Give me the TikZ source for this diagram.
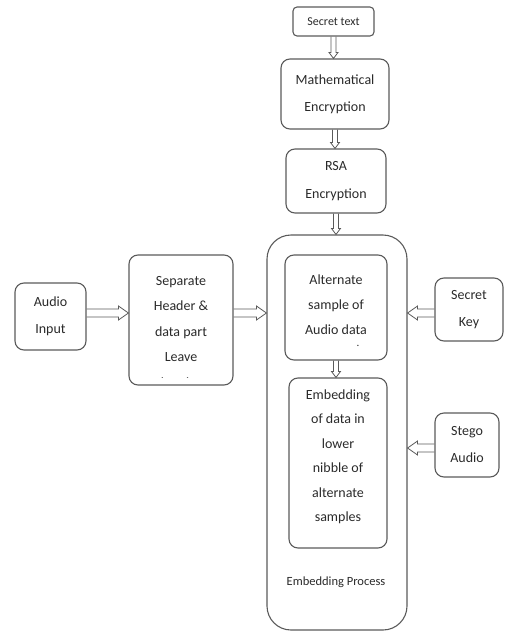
\documentclass[tikz,border=0pt]{standalone}
\usepackage{fontspec}
\setmainfont{Carlito}
\usetikzlibrary{calc}
\definecolor{edge}{HTML}{5A5A5A}
\definecolor{ink}{HTML}{2A2A2A}
\tikzset{
  box/.style={draw=edge, line width=1.1pt, rounded corners=9pt, inner sep=0pt, align=center, text=ink},
  bigbox/.style={draw=edge, line width=1.1pt, rounded corners=24pt, inner sep=0pt},
  txt/.style={align=center, text=ink, inner sep=0pt, font=\fontsize{14}{25}\selectfont},
  arrowbody/.style={draw=edge, line width=0.8pt, line join=miter},
}
% horizontal hollow arrow from #1 to #2 (same height)
\newcommand{\flowH}[2]{\draw[arrowbody] let \p1=(#1), \p2=(#2), \n1={sign(\x2-\x1)} in
  (\x1,\y1+4pt) -- (\x2-\n1*10pt,\y1+4pt) -- (\x2-\n1*10pt,\y1+7pt) -- (\x2,\y1)
  -- (\x2-\n1*10pt,\y1-7pt) -- (\x2-\n1*10pt,\y1-4pt) -- (\x1,\y1-4pt);}
% vertical (downward) hollow arrow from #1 to #2
\newcommand{\flowV}[2]{\draw[arrowbody] let \p1=(#1), \p2=(#2) in
  (\x1-2.5pt,\y1) -- (\x1-2.5pt,\y2+6pt) -- (\x1-4.5pt,\y2+6pt) -- (\x1,\y2)
  -- (\x1+4.5pt,\y2+6pt) -- (\x1+2.5pt,\y2+6pt) -- (\x1+2.5pt,\y1);}
\begin{document}
\begin{tikzpicture}[x=1pt,y=-1pt]
\useasboundingbox (0,0) rectangle (505,632);
% outer
\node[bigbox, minimum width=140pt, minimum height=395pt] (outer) at (337,432.5) {};
\node[txt, font=\fontsize{12.5}{14}\selectfont] (eplabel) at (336,582) {Embedding Process};
% top chain
\node[box, minimum width=81pt, minimum height=29pt, font=\fontsize{12}{12}\selectfont, rounded corners=4pt] (secret) at (333.5,21.5) {Secret text};
\node[box, minimum width=108pt, minimum height=70pt, font=\fontsize{14}{27}\selectfont] (math) at (335,94) {Mathematical\\Encryption};
\node[box, minimum width=100pt, minimum height=64pt, font=\fontsize{14}{28}\selectfont] (rsa) at (336,181) {RSA\\Encryption};
% inner boxes
\node[box, minimum width=102pt, minimum height=105pt] (alt) at (336,307.5) {};
\node[txt] (alttext) at (336,305) {Alternate\\sample of\\Audio data};
\node[txt, font=\fontsize{11}{10}\selectfont] (altdot) at (358,346) {.};
\node[box, minimum width=98pt, minimum height=170pt] (emb) at (338,463) {};
\node[txt, font=\fontsize{14}{24.5}\selectfont] (embtext) at (338,457) {Embedding\\of data in\\lower\\nibble of\\alternate\\samples};
% left
\node[box, minimum width=71pt, minimum height=67pt, font=\fontsize{14}{27}\selectfont] (audio) at (50.5,316.5) {Audio\\Input};
\node[box, minimum width=104pt, minimum height=130pt] (sep) at (181,320) {};
\begin{scope}
\clip (129.5,255.5) rectangle (232.5,377.5);
\node[txt, anchor=north, font=\fontsize{14}{25.5}\selectfont] (septext) at (181,276) {Separate\\Header \&\\data part\\Leave\\header};
\end{scope}
% right
\node[box, minimum width=68pt, minimum height=63pt, font=\fontsize{14}{27}\selectfont] (key) at (469,309.5) {Secret\\Key};
\node[box, minimum width=64pt, minimum height=64pt, font=\fontsize{14}{27}\selectfont] (stego) at (467,445) {Stego\\Audio};
% arrow rows
\coordinate (rowA) at (0,313);
\coordinate (rowB) at (0,448);
% arrows
\flowV{secret.south}{math.north}
\flowV{math.south}{math.south |- rsa.north}
\flowV{rsa.south}{rsa.south |- outer.north}
\flowV{alt.south}{alt.south |- emb.north}
\flowH{audio.east |- rowA}{sep.west |- rowA}
\flowH{sep.east |- rowA}{outer.west |- rowA}
\flowH{key.west |- rowA}{outer.east |- rowA}
\flowH{stego.west |- rowB}{outer.east |- rowB}
\end{tikzpicture}
\end{document}
